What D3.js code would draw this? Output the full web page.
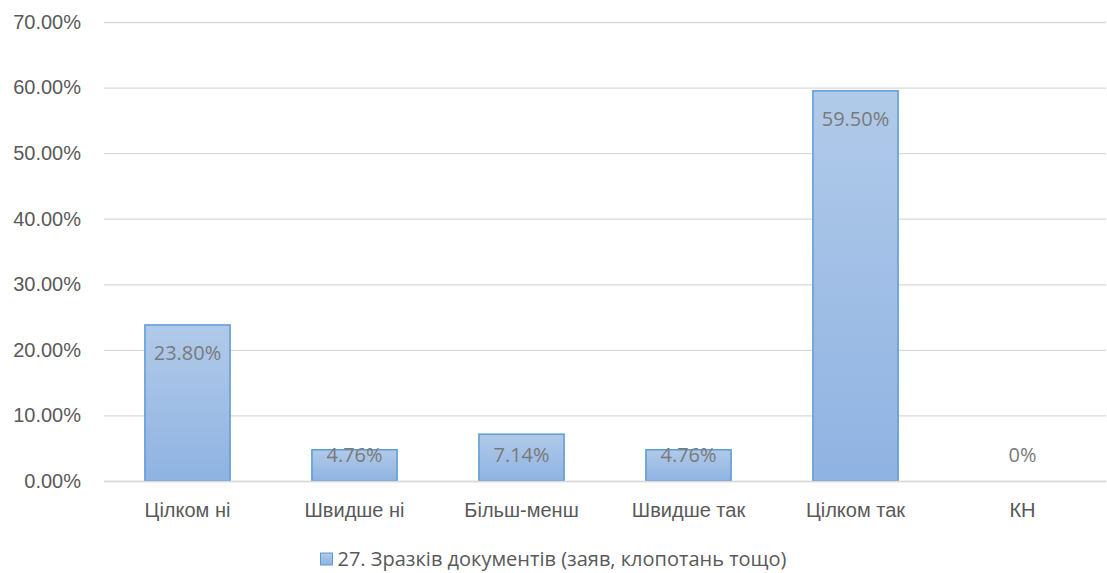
<!DOCTYPE html>
<html><head><meta charset="utf-8">
<script src="https://cdn.jsdelivr.net/npm/d3@7"></script>
<style>body{margin:0;background:#fff;}svg{display:block;font-family:"Open Sans",sans-serif;}</style>
</head><body><svg id="c" width="1107" height="573"></svg>
<script>
const categories = ["Цілком ні","Швидше ні","Більш-менш","Швидше так","Цілком так","КН"];
const values = [0.238, 0.0476, 0.0714, 0.0476, 0.595, 0];
const valueLabels = ["23.80%","4.76%","7.14%","4.76%","59.50%","0%"];
const yTicks = [0,0.1,0.2,0.3,0.4,0.5,0.6,0.7];
const seriesName = "27. Зразків документів (заяв, клопотань тощо)";

const FS = "20px";
const svg = d3.select("#c");
const L=104, R=1106, T=22, B=481;
const x = d3.scaleBand().domain(categories).range([L,R]).paddingInner(0.49).paddingOuter(0.245);
const y = d3.scaleLinear().domain([0,0.7]).range([B,T]);

const defs = svg.append("defs");
const g = defs.append("linearGradient").attr("id","bg").attr("x1",0).attr("y1",0).attr("x2",0).attr("y2",1);
g.append("stop").attr("offset","0%").attr("stop-color","#b1cae9");
g.append("stop").attr("offset","100%").attr("stop-color","#8fb3e2");

const ya = svg.append("g").attr("transform",`translate(${L},0)`)
  .call(d3.axisLeft(y).tickValues(yTicks).tickSize(-(R-L)).tickPadding(23).tickFormat(d=>(d*100).toFixed(2)+"%"));
ya.select(".domain").remove();
ya.selectAll("line").attr("stroke","#d9d9d9").attr("stroke-width",1.3);
ya.selectAll("text").attr("fill","#595959").style("font-size",FS).attr("font-family",null);

svg.append("g").selectAll("rect").data(values).join("rect")
  .attr("x",(d,i)=>x(categories[i])).attr("y",d=>y(d))
  .attr("width",x.bandwidth()).attr("height",d=>B-y(d))
  .attr("fill","url(#bg)").attr("stroke","#5b9bd5").attr("stroke-width",1.5)
  .style("display",d=>d>0?null:"none");

svg.append("g").selectAll("text").data(values).join("text")
  .attr("x",(d,i)=>x(categories[i])+x.bandwidth()/2)
  .attr("y",d=>Math.min(y(d)+28, B-26))
  .attr("dy","0.35em").attr("text-anchor","middle")
  .attr("fill","#7a7a7a").style("font-size",FS)
  .text((d,i)=>valueLabels[i]);

const xa = svg.append("g").attr("transform",`translate(0,${B})`)
  .call(d3.axisBottom(x).tickSize(0).tickPadding(22));
xa.select(".domain").attr("stroke","#d9d9d9").attr("stroke-width",1.5);
xa.selectAll("text").attr("fill","#595959").style("font-size",FS).attr("font-family",null);

const leg = svg.append("g");
const lt = leg.append("text").attr("x",562).attr("y",559).attr("dy","0.35em").attr("text-anchor","middle")
  .attr("fill","#595959").style("font-size",FS).text(seriesName);
const bb = lt.node().getBBox();
leg.append("rect").attr("x",bb.x-17).attr("y",553).attr("width",12).attr("height",12)
  .attr("fill","url(#bg)").attr("stroke","#5b9bd5").attr("stroke-width",1);
</script></body></html>
